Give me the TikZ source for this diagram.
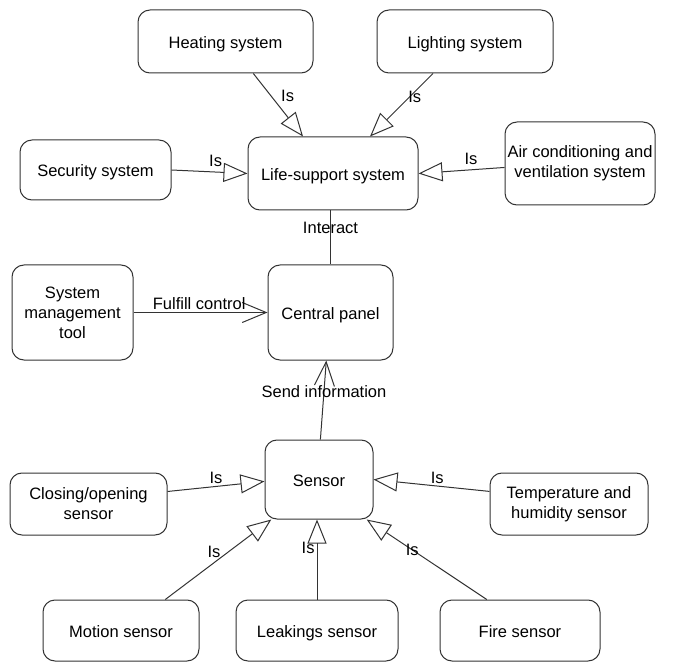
\documentclass[tikz,border=0pt]{standalone}
\usepackage{fontspec}
\setmainfont{Liberation Sans}
\usetikzlibrary{arrows.meta}

\begin{document}
\begin{tikzpicture}[x=1pt,y=-1pt,
	box/.style={draw=black!80,line width=1pt,rounded corners=12pt,align=center,inner sep=0pt,font=\fontsize{16.5}{20}\selectfont},
	one/.style={box,text height=14pt,text depth=0pt},
	isa/.style={draw=black!80,line width=1pt,-{Triangle[open,length=24pt,width=19pt]}},
	rel/.style={draw=black!80,line width=1pt,-{Straight Barb[length=24pt,width=20pt]}},
	lbl/.style={inner sep=2pt,font=\fontsize{16.5}{20}\selectfont}]
				\useasboundingbox (0,0) rectangle (675,663);
				
				%systems
				\node[one,minimum width=175pt,minimum height=63pt] (heat) at (225.5,41.5) {Heating system};
				\node[one,minimum width=176pt,minimum height=63pt] (light) at (465,41.5) {Lighting system};
				\node[one,minimum width=151pt,minimum height=60pt] (sec) at (95.5,170) {Security system};
				\node[one,minimum width=170pt,minimum height=73pt] (life) at (333,173.5) {Life-support system};
				\node[box,minimum width=150pt,minimum height=83pt] (air) at (580,163.5) {Air conditioning and\\ventilation system};
				
				%control
				\node[box,minimum width=121pt,minimum height=95pt] (sys) at (72.5,312.5) {System\\management\\tool};
				\node[one,minimum width=125pt,minimum height=95pt] (central) at (330.5,312.5) {Central panel};
				
				%sensors
				\node[one,minimum width=108pt,minimum height=79pt] (sensor) at (319,479.5) {Sensor};
				\node[box,minimum width=157pt,minimum height=62pt] (close) at (88.5,504) {Closing/opening\\sensor};
				\node[box,minimum width=158pt,minimum height=62pt] (temp) at (569,504) {Temperature and\\humidity sensor};
				\node[one,minimum width=156pt,minimum height=61pt] (motion) at (121,630.5) {Motion sensor};
				\node[one,minimum width=162pt,minimum height=61pt] (leak) at (317,630.5) {Leakings sensor};
				\node[one,minimum width=160pt,minimum height=61pt] (fire) at (520,630.5) {Fire sensor};
				
				\draw[isa] (heat.-49) -- (life.129) node[lbl,pos=0.35,right=8pt] {Is};
				\draw[isa] (light.-135) -- (life.45) node[lbl,pos=0.37,xshift=5pt] {Is};
				\draw[isa] (sec.east) -- (life.west) node[lbl,pos=0.58,above=3pt] {Is};
				\draw[isa] (air.183) -- (life.east) node[lbl,pos=0.39,above=3pt] {Is};
				
				\draw[draw=black!80,line width=1pt] (central.north |- life.south) -- (central.north) node[lbl,pos=0.33] {Interact};
				\draw[rel] (sys.east) -- (central.west) node[lbl,pos=0.49,above] {Fulfill control};
				\draw[rel] (sensor.88) -- (central.-95) node[lbl,pos=0.61] {Send information};
				
				\draw[isa] (close.9) -- (sensor.182) node[lbl,pos=0.5,above] {Is};
				\draw[isa] (temp.171) -- (sensor.east) node[lbl,pos=0.45,above] {Is};
				\draw[isa] (motion.35) -- (sensor.-140) node[lbl,pos=0.6,left=6pt] {Is};
				\draw[isa] (leak.north) -- (leak.north |- sensor.south) node[lbl,pos=0.64,left] {Is};
				\draw[isa] (fire.137) -- (sensor.-40) node[lbl,pos=0.62] {Is};
			
			\end{tikzpicture}
\end{document}
